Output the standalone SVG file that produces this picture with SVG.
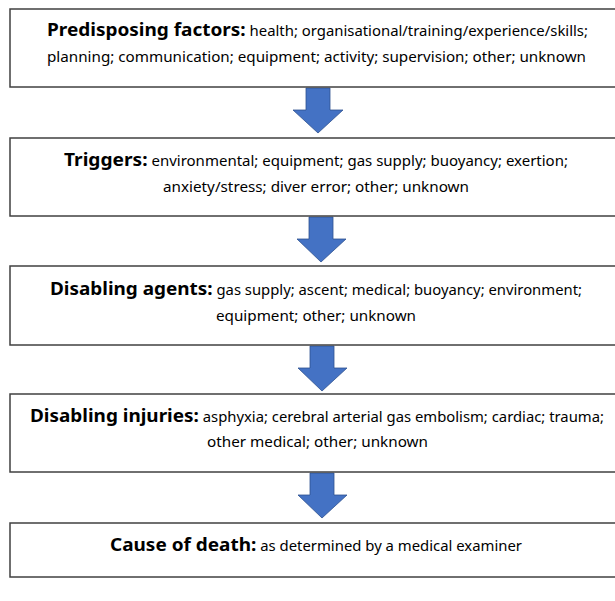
<svg xmlns="http://www.w3.org/2000/svg" width="615" height="601" viewBox="0 0 615 601">
<style>
.box{fill:#fff;stroke:#404040;stroke-width:1.5}
.t{font-family:"Noto Sans","Open Sans","Liberation Sans",sans-serif;font-size:14.5px;fill:#000;text-anchor:middle}
.b{font-weight:bold;font-size:18.5px}
.arr{fill:#4472C4;stroke:#2F528F;stroke-width:0.8}
</style>
<rect width="615" height="601" fill="#fff"/>
<g id="connectors">
<path class="arr" d="M306,88 H330 V110 H343 L318,133 L293,110 H306 Z"/>
<path class="arr" d="M309,217 H333 V239 H346 L321,262 L297,239 H309 Z"/>
<path class="arr" d="M310,346 H334 V368 H347 L322,391 L298,368 H310 Z"/>
<path class="arr" d="M310,473 H334 V495 H347 L322,518 L298,495 H310 Z"/>
</g>
<g id="predisposing">
<rect class="box" x="10" y="9" width="620" height="78"/>
<text class="t" x="317.5" y="36" textLength="541" lengthAdjust="spacingAndGlyphs"><tspan class="b">Predisposing factors:</tspan> health; organisational/training/experience/skills;</text>
<text class="t" x="316.5" y="62" textLength="539" lengthAdjust="spacingAndGlyphs">planning; communication; equipment; activity; supervision; other; unknown</text>
</g>
<g id="triggers">
<rect class="box" x="10" y="138" width="620" height="78"/>
<text class="t" x="316" y="166" textLength="504" lengthAdjust="spacingAndGlyphs"><tspan class="b">Triggers:</tspan> environmental; equipment; gas supply; buoyancy; exertion;</text>
<text class="t" x="316" y="192" textLength="306" lengthAdjust="spacingAndGlyphs">anxiety/stress; diver error; other; unknown</text>
</g>
<g id="agents">
<rect class="box" x="10" y="266" width="620" height="79"/>
<text class="t" x="316" y="295" textLength="532" lengthAdjust="spacingAndGlyphs"><tspan class="b">Disabling agents:</tspan> gas supply; ascent; medical; buoyancy; environment;</text>
<text class="t" x="316" y="321" textLength="200" lengthAdjust="spacingAndGlyphs">equipment; other; unknown</text>
</g>
<g id="injuries">
<rect class="box" x="10" y="394" width="620" height="78"/>
<text class="t" x="317" y="422" textLength="574" lengthAdjust="spacingAndGlyphs"><tspan class="b">Disabling injuries:</tspan> asphyxia; cerebral arterial gas embolism; cardiac; trauma;</text>
<text class="t" x="317.5" y="447" textLength="221" lengthAdjust="spacingAndGlyphs">other medical; other; unknown</text>
</g>
<g id="cause">
<rect class="box" x="10" y="523" width="620" height="54"/>
<text class="t" x="316" y="551" textLength="412" lengthAdjust="spacingAndGlyphs"><tspan class="b">Cause of death:</tspan> as determined by a medical examiner</text>
</g>
</svg>
